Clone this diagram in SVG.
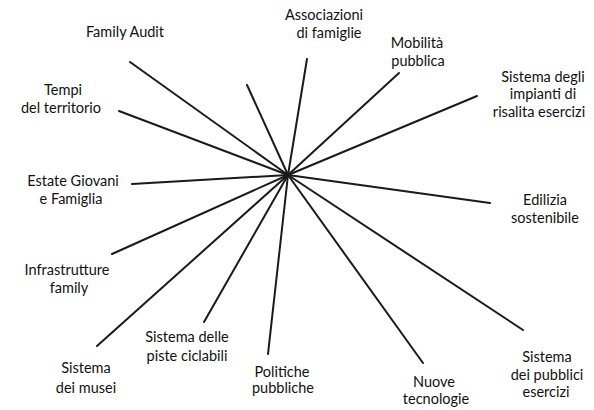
<svg xmlns="http://www.w3.org/2000/svg" width="594" height="410" viewBox="0 0 594 410">
<style>
  .bg{fill:#fff}
  .spoke{stroke:#1a1a1a;stroke-width:2;stroke-linecap:round;fill:none}
  text{font-family:Lato,"Open Sans","Liberation Sans",sans-serif;font-size:14.5px;fill:#111;text-anchor:middle}
</style>
<rect class="bg" x="0" y="0" width="594" height="410"/>
<g id="connectors">
  <line class="spoke" x1="288" y1="175" x2="130" y2="62"/>
  <line class="spoke" x1="288" y1="175" x2="119" y2="111"/>
  <line class="spoke" x1="288" y1="175" x2="247" y2="85"/>
  <line class="spoke" x1="288" y1="175" x2="132" y2="184"/>
  <line class="spoke" x1="288" y1="175" x2="307" y2="59"/>
  <line class="spoke" x1="288" y1="175" x2="399" y2="73"/>
  <line class="spoke" x1="288" y1="175" x2="477" y2="96"/>
  <line class="spoke" x1="288" y1="175" x2="490" y2="203"/>
  <line class="spoke" x1="288" y1="175" x2="112" y2="254"/>
  <line class="spoke" x1="288" y1="175" x2="97" y2="346"/>
  <line class="spoke" x1="288" y1="175" x2="204" y2="322"/>
  <line class="spoke" x1="288" y1="175" x2="268" y2="354"/>
  <line class="spoke" x1="288" y1="175" x2="423" y2="363"/>
  <line class="spoke" x1="288" y1="175" x2="523" y2="330"/>
</g>
<g id="family-audit"><text x="125" y="37">Family Audit</text></g>
<g id="tempi"><text x="63" y="95">Tempi</text><text x="61" y="113">del territorio</text></g>
<g id="estate"><text x="73" y="186">Estate Giovani</text><text x="71" y="204">e Famiglia</text></g>
<g id="associazioni"><text x="324" y="20">Associazioni</text><text x="329" y="38">di famiglie</text></g>
<g id="mobilita"><text x="417" y="48">Mobilità</text><text x="418" y="66">pubblica</text></g>
<g id="impianti"><text x="543" y="82">Sistema degli</text><text x="543" y="99">impianti di</text><text x="539" y="117">risalita esercizi</text></g>
<g id="edilizia"><text x="545" y="205">Edilizia</text><text x="545" y="223">sostenibile</text></g>
<g id="infrastrutture"><text x="67" y="275">Infrastrutture</text><text x="69" y="293">family</text></g>
<g id="piste"><text x="187" y="342">Sistema delle</text><text x="187" y="361">piste ciclabili</text></g>
<g id="musei"><text x="86" y="373">Sistema</text><text x="86" y="393">dei musei</text></g>
<g id="politiche"><text x="282" y="377">Politiche</text><text x="283" y="393">pubbliche</text></g>
<g id="nuove"><text x="434" y="387">Nuove</text><text x="436" y="404">tecnologie</text></g>
<g id="pubblici"><text x="547" y="362">Sistema</text><text x="547" y="380">dei pubblici</text><text x="546" y="397">esercizi</text></g>
</svg>
